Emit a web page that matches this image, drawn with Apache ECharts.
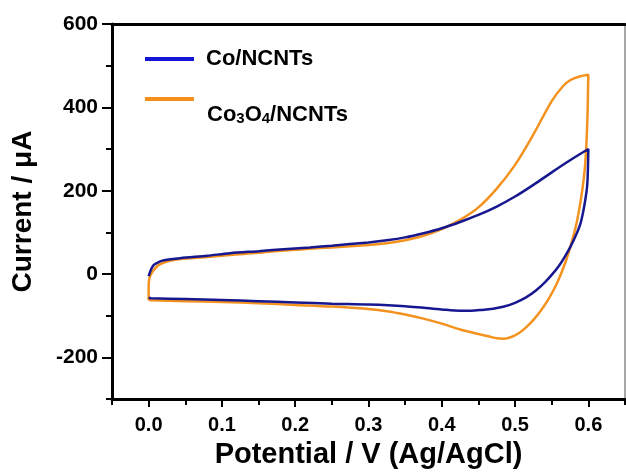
<!DOCTYPE html>
<html>
<head>
<meta charset="utf-8">
<script src="https://cdn.jsdelivr.net/npm/echarts@6/dist/echarts.min.js"></script>
<style>
html, body { margin: 0; padding: 0; background: #fff; }
#chart { width: 626px; height: 474px; }
</style>
</head>
<body>
<div id="chart"></div>
<script>
// Co/NCNTs: forward scan then reverse scan
var coPotential = [0, 0.003, 0.007, 0.014, 0.021, 0.043, 0.08, 0.111, 0.15, 0.179, 0.22, 0.25, 0.3, 0.325, 0.35, 0.375, 0.4, 0.425, 0.45, 0.475, 0.5, 0.525, 0.55, 0.575, 0.6,
	0.5995, 0.599, 0.598, 0.596, 0.593, 0.589, 0.583, 0.576, 0.568, 0.56, 0.55, 0.54, 0.528, 0.515, 0.5, 0.485, 0.47, 0.455, 0.44, 0.425, 0.4, 0.375, 0.35, 0.3, 0.25, 0.2, 0.15, 0.1, 0.05, 0.003, 0];
var coCurrent = [-5, 10, 22, 29, 33, 38, 44, 50, 55, 59, 64, 68, 76, 81, 88, 98, 110, 125, 142, 162, 186, 214, 244, 273, 300,
	260, 230, 205, 180, 150, 120, 93, 67, 42, 20, -2, -21, -40, -56, -69, -78, -83, -86, -88, -88, -85, -81, -77, -73, -71, -68, -65, -62, -60, -58, -57];

// Co3O4/NCNTs
var co3o4Potential = [0, 0, 0.001, 0.004, 0.008, 0.014, 0.025, 0.043, 0.08, 0.111, 0.15, 0.179, 0.22, 0.25, 0.3, 0.325, 0.35, 0.375, 0.4, 0.425, 0.45, 0.475, 0.5, 0.525, 0.55, 0.565, 0.575, 0.588, 0.6,
	0.5995, 0.599, 0.598, 0.597, 0.595, 0.592, 0.588, 0.583, 0.577, 0.57, 0.563, 0.555, 0.545, 0.535, 0.525, 0.515, 0.505, 0.495, 0.485, 0.475, 0.465, 0.45, 0.425, 0.4, 0.375, 0.35, 0.325, 0.3, 0.25, 0.2, 0.15, 0.1, 0.05, 0.003, 0];
var co3o4Current = [-62, -30, -10, 2, 12, 22, 30, 36, 41, 46, 51, 56, 61, 64, 70, 74, 81, 92, 108, 130, 160, 205, 262, 335, 415, 450, 465, 474, 478,
	440, 390, 340, 300, 250, 205, 160, 115, 75, 35, 2, -30, -62, -88, -110, -128, -142, -151, -155, -154, -150, -144, -133, -119, -107, -97, -89, -84, -78, -74, -70, -67, -65, -63, -62];

var xMajorTicks = [0, 0.1, 0.2, 0.3, 0.4, 0.5, 0.6];
var xMinorTicks = [-0.05, 0.05, 0.15, 0.25, 0.35, 0.45, 0.55, 0.65];
var yMajorTicks = [-200, 0, 200, 400, 600];
var yMinorTicks = [-300, -100, 100, 300, 500];

function zip(xs, ys) {
	var out = [];
	for (var i = 0; i < xs.length; i++) out.push([xs[i], ys[i]]);
	return out;
}

var FONT = 'Liberation Sans, Arial, sans-serif';
var blue = '#17178f';
var orange = '#f3921f';

var chart = echarts.init(document.getElementById('chart'));
chart.setOption({
	animation: false,
	textStyle: { fontFamily: FONT },
	grid: { left: 112, right: 1, top: 24, bottom: 70 },
	legend: [
		{
			data: [{ name: 'Co/NCNTs', itemStyle: { color: '#1515d6' } }],
			left: 140, top: 40,
			icon: 'rect', itemWidth: 49, itemHeight: 4,
			selectedMode: false,
			textStyle: { fontSize: 22, fontWeight: 'bold', color: '#000', lineHeight: 24, padding: [4, 0, 0, 7] }
		},
		{
			data: [{ name: 'Co3O4/NCNTs', itemStyle: { color: '#f58f1e' } }],
			left: 140, top: 92,
			icon: 'rect', itemWidth: 49, itemHeight: 4,
			selectedMode: false,
			formatter: function () { return '{n|Co}{s|3}{n|O}{s|4}{n|/NCNTs}'; },
			textStyle: {
				color: '#000', padding: [30, 0, 0, 8],
				rich: {
					n: { fontSize: 22, fontWeight: 'bold', color: '#000', lineHeight: 24, verticalAlign: 'bottom', fontFamily: FONT },
					s: { fontSize: 15, fontWeight: 'bold', color: '#000', lineHeight: 10, verticalAlign: 'bottom', fontFamily: FONT }
				}
			}
		}
	],
	xAxis: [
		{
			type: 'value', min: -0.05, max: 0.65, position: 'bottom',
			name: 'Potential / V (Ag/AgCl)', nameLocation: 'middle', nameGap: 40,
			nameTextStyle: { fontSize: 29, fontWeight: 'bold', color: '#000' },
			axisLine: { onZero: false, lineStyle: { color: '#000', width: 3 } },
			axisTick: { customValues: xMajorTicks, length: 8, lineStyle: { color: '#000', width: 2 } },
			axisLabel: {
				customValues: xMajorTicks, margin: 16,
				fontSize: 20, fontWeight: 'bold', color: '#000',
				formatter: function (v) { return v.toFixed(1); }
			},
			splitLine: { show: false }
		},
		{
			type: 'value', min: -0.05, max: 0.65, position: 'bottom',
			axisLine: { show: false, onZero: false },
			axisTick: { customValues: xMinorTicks, length: 6, lineStyle: { color: '#000', width: 2 } },
			axisLabel: { show: false },
			splitLine: { show: false }
		},
		{
			type: 'value', min: -0.05, max: 0.65, position: 'top',
			axisLine: { onZero: false, lineStyle: { color: '#000', width: 3 } },
			axisTick: { show: false },
			axisLabel: { show: false },
			splitLine: { show: false }
		}
	],
	yAxis: [
		{
			type: 'value', min: -300, max: 600, position: 'left',
			name: 'Current / \u03bcA', nameLocation: 'middle', nameGap: 75,
			nameTextStyle: { fontSize: 28, fontWeight: 'bold', color: '#000' },
			axisLine: { onZero: false, lineStyle: { color: '#000', width: 3 } },
			axisTick: { customValues: yMajorTicks, length: 10, lineStyle: { color: '#000', width: 2 } },
			axisLabel: { customValues: yMajorTicks, margin: 14, fontSize: 21, fontWeight: 'bold', color: '#000' },
			splitLine: { show: false }
		},
		{
			type: 'value', min: -300, max: 600, position: 'left',
			axisLine: { show: false, onZero: false },
			axisTick: { customValues: yMinorTicks, length: 6, lineStyle: { color: '#000', width: 2 } },
			axisLabel: { show: false },
			splitLine: { show: false }
		},
		{
			type: 'value', min: -300, max: 600, position: 'right',
			axisLine: { onZero: false, lineStyle: { color: '#8a8a8a', width: 1.5 } },
			axisTick: { show: false },
			axisLabel: { show: false },
			splitLine: { show: false }
		}
	],
	series: [
		{
			name: 'Co3O4/NCNTs', type: 'line', symbol: 'none', smooth: 0.3,
			data: zip(co3o4Potential, co3o4Current),
			lineStyle: { color: orange, width: 2.5 },
			itemStyle: { color: orange }
		},
		{
			name: 'Co/NCNTs', type: 'line', symbol: 'none', smooth: 0.3,
			data: zip(coPotential, coCurrent),
			lineStyle: { color: blue, width: 2.5 },
			itemStyle: { color: blue }
		}
	]
});
</script>
</body>
</html>
